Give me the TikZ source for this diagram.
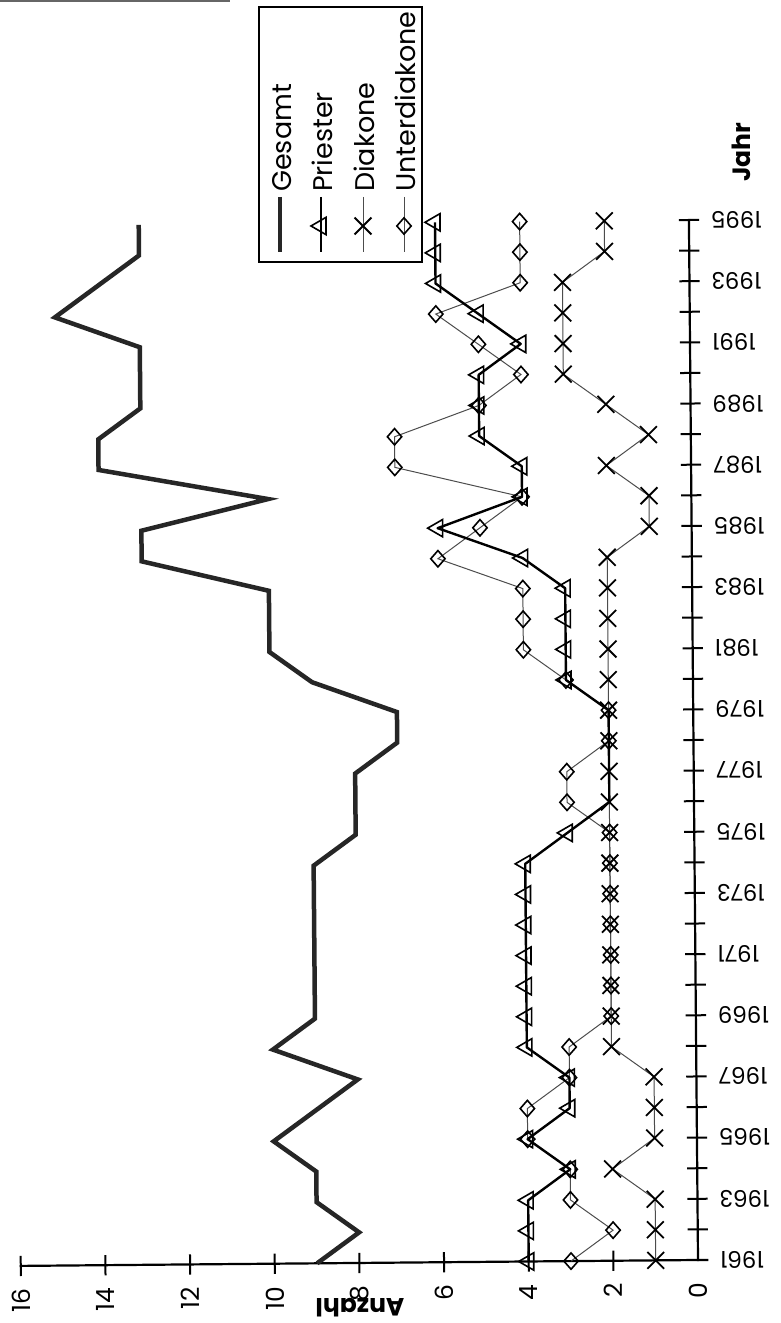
\documentclass[tikz,border=0pt]{standalone}
\usepackage{fontspec}
\setmainfont{Poppins}
\usetikzlibrary{shapes.geometric,shapes.misc}
\tikzset{
  axisline/.style={line width=2.2pt, line cap=rect},
  tickline/.style={line width=2pt},
  gline/.style={line width=4.5pt, line join=miter, black!85},
  pline/.style={line width=2.4pt, line join=round},
  thinline/.style={line width=1pt, black!70},
  trimark/.style={regular polygon, regular polygon sides=3, shape border rotate=90, draw, line width=1.6pt, minimum size=20pt, inner sep=0pt},
  diamark/.style={diamond, draw, line width=1.6pt, minimum width=15pt, minimum height=17pt, inner sep=0pt},
  xmark/.style={cross out, draw, line width=1.8pt, minimum size=15pt, inner sep=0pt},
  yearlbl/.style={rotate=180, anchor=east, inner sep=0pt, font=\fontsize{23}{25}\selectfont},
  numlbl/.style={rotate=90, anchor=east, inner sep=0pt, font=\fontsize{25}{27}\selectfont},
  legtext/.style={rotate=90, anchor=base west, inner sep=0pt, font=\fontsize{27}{29}\selectfont},
  axtitle/.style={inner sep=0pt, font=\bfseries\fontsize{25}{27}\selectfont}
}
\begin{document}
\begin{tikzpicture}[x=1pt,y=1pt]
\useasboundingbox (0,0) rectangle (780,1323);
% scan edge at the top
\draw[line width=1.5pt, black!60] (0,1322) -- (230,1322);

\begin{scope}[shift={(698,63)}, rotate=0.5, x={(-42.33pt,0pt)}, y={(0pt,30.59pt)}]
  % axes
  \draw[axisline] (16,0) -- (-0.22,0);
  \draw[axisline] (0,0) -- (0,34);
  \foreach \t in {1,...,34} \draw[tickline] (0.24,\t) -- (-0.24,\t);
  \foreach \v in {2,4,...,16} \draw[tickline] (\v,-0.33) -- (\v,0.33);
  % axis numbers
  \foreach \v in {0,2,...,16} \node[numlbl] (n\v) at (\v,-0.74) {\v};
  \foreach \t in {0,2,...,34} {
    \pgfmathtruncatemacro{\yr}{1961+\t}
    \node[yearlbl] (y\t) at (-0.52,\t) {\yr};
  }
  % data coordinates
  \foreach \t/\g/\p/\d/\u in {
    0/9/4/1/3, 1/8/4/1/2, 2/9/4/1/3, 3/9/3/2/3, 4/10/4/1/4, 5/9/3/1/4,
    6/8/3/1/3, 7/10/4/2/3, 8/9/4/2/2, 9/9/4/2/2, 10/9/4/2/2, 11/9/4/2/2,
    12/9/4/2/2, 13/9/4/2/2, 14/8/3/2/2, 15/8/2/2/3, 16/8/2/2/3, 17/7/2/2/2,
    18/7/2/2/2, 19/9/3/2/3, 20/10/3/2/4, 21/10/3/2/4, 22/10/3/2/4, 23/13/4/2/6,
    24/13/6/1/5, 25/10/4/1/4, 26/14/4/2/7, 27/14/5/1/7, 28/13/5/2/5, 29/13/5/3/4,
    30/13/4/3/5, 31/15/5/3/6, 32/14/6/3/4, 33/13/6/2/4, 34/13/6/2/4} {
    \coordinate (G\t) at (\g,\t);
    \coordinate (P\t) at (\p,\t);
    \coordinate (D\t) at (\d,\t);
    \coordinate (U\t) at (\u,\t);
  }
  % series lines
  \draw[gline] (G0) \foreach \i in {1,...,34} { -- (G\i) };
  \draw[thinline] (U0) \foreach \i in {1,...,34} { -- (U\i) };
  \draw[thinline] (D0) \foreach \i in {1,...,34} { -- (D\i) };
  \draw[pline] (P0) \foreach \i in {1,...,34} { -- (P\i) };
  % markers
  \foreach \i in {0,...,14,19,20,...,34} \node[trimark] (Pm\i) at (P\i) {};
  \foreach \i in {0,...,34} \node[diamark] (Um\i) at (U\i) {};
  \foreach \i in {0,...,34} \node[xmark] (Dm\i) at (D\i) {};
\end{scope}

% axis titles
\node[axtitle, rotate=90, anchor=base west] (jahr) at (750,1141) {Jahr};
\node[axtitle, rotate=180] (anzahl) at (360,15) {Anzahl};

% legend
\draw[line width=2pt] (259,1316) rectangle (422,1061);
\coordinate (lg1a) at (280,1126); \coordinate (lg1b) at (280,1071);
\coordinate (lg2a) at (321,1126); \coordinate (lg2b) at (321,1071);
\coordinate (lg3a) at (363,1126); \coordinate (lg3b) at (363,1071);
\coordinate (lg4a) at (404,1126); \coordinate (lg4b) at (404,1071);
\draw[gline] (lg1a) -- (lg1b);
\draw[pline] (lg2a) -- (lg2b);
\draw[thinline] (lg3a) -- (lg3b);
\draw[thinline] (lg4a) -- (lg4b);
\node[trimark] (lm2) at (321,1097) {};
\node[xmark] (lm3) at (363,1097) {};
\node[diamark] (lm4) at (404,1097) {};
\node[legtext] (lt1) at (291,1131) {Gesamt};
\node[legtext] (lt2) at (332,1131) {Priester};
\node[legtext] (lt3) at (374,1131) {Diakone};
\node[legtext] (lt4) at (415,1131) {Unterdiakone};
\end{tikzpicture}
\end{document}
